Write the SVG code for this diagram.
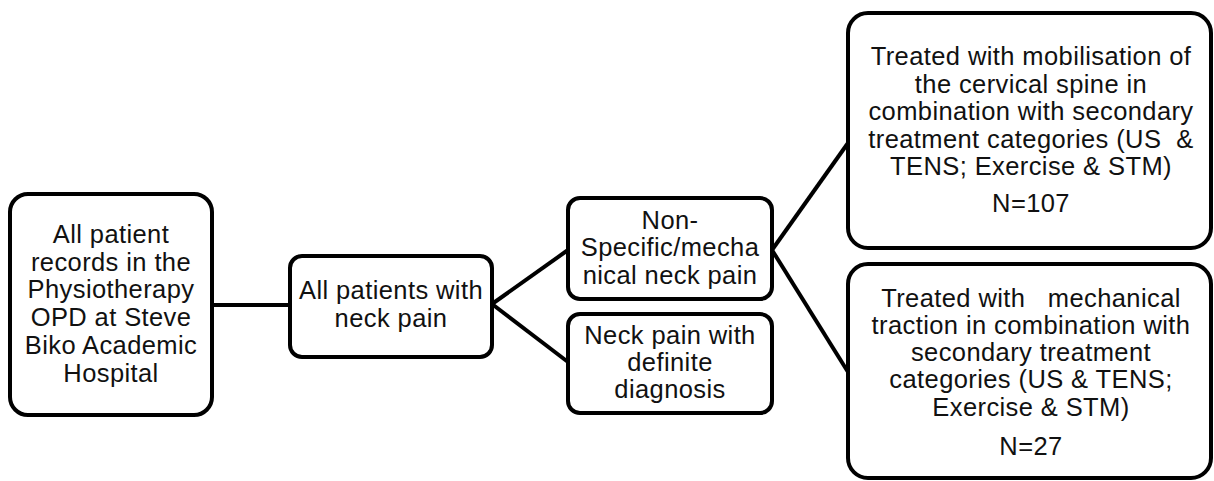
<svg xmlns="http://www.w3.org/2000/svg" width="1214" height="481" viewBox="0 0 1214 481">
<style>
.box{fill:#fff;stroke:#000;stroke-width:4}
.t{font-family:"Liberation Sans",Arial,sans-serif;font-size:25.5px;letter-spacing:0.4px;fill:#111;text-anchor:middle}
.c{stroke:#000;stroke-width:4;fill:none}
</style>
<rect width="1214" height="481" fill="#fff"/>
<g id="connectors">
<line class="c" x1="212" y1="305" x2="290" y2="305"/>
<line class="c" x1="492" y1="304" x2="568" y2="250"/>
<line class="c" x1="492" y1="304" x2="568" y2="362"/>
<line class="c" x1="772" y1="250" x2="848" y2="143"/>
<line class="c" x1="772" y1="250" x2="848" y2="372"/>
</g>
<g id="n1">
<rect class="box" x="10" y="194" width="202" height="221" rx="18"/>
<text class="t" x="111" y="243">All patient</text>
<text class="t" x="111" y="271">records in the</text>
<text class="t" x="111" y="298">Physiotherapy</text>
<text class="t" x="111" y="326">OPD at Steve</text>
<text class="t" x="111" y="354">Biko Academic</text>
<text class="t" x="111" y="382">Hospital</text>
</g>
<g id="n2">
<rect class="box" x="290" y="256" width="202" height="101" rx="12"/>
<text class="t" x="391" y="299">All patients with</text>
<text class="t" x="391" y="327">neck pain</text>
</g>
<g id="n3">
<rect class="box" x="568" y="198" width="204" height="101" rx="12"/>
<text class="t" x="670" y="229">Non-</text>
<text class="t" x="670" y="256">Specific/mecha</text>
<text class="t" x="670" y="284">nical neck pain</text>
</g>
<g id="n4">
<rect class="box" x="568" y="314" width="204" height="99" rx="12"/>
<text class="t" x="670" y="344">Neck pain with</text>
<text class="t" x="670" y="371">definite</text>
<text class="t" x="670" y="398">diagnosis</text>
</g>
<g id="n5">
<rect class="box" x="848" y="13" width="363" height="235" rx="20"/>
<text class="t" x="1031" y="65">Treated with mobilisation of</text>
<text class="t" x="1031" y="93">the cervical spine in</text>
<text class="t" x="1031" y="120">combination with secondary</text>
<text class="t" x="1031" y="148" xml:space="preserve">treatment categories (US  &amp;</text>
<text class="t" x="1031" y="175">TENS; Exercise &amp; STM)</text>
<text class="t" x="1031" y="212">N=107</text>
</g>
<g id="n6">
<rect class="box" x="848" y="264" width="363" height="214" rx="20"/>
<text class="t" x="1031" y="307" xml:space="preserve">Treated with   mechanical</text>
<text class="t" x="1031" y="334">traction in combination with</text>
<text class="t" x="1031" y="361">secondary treatment</text>
<text class="t" x="1031" y="388">categories (US &amp; TENS;</text>
<text class="t" x="1031" y="416">Exercise &amp; STM)</text>
<text class="t" x="1031" y="455">N=27</text>
</g>
</svg>
